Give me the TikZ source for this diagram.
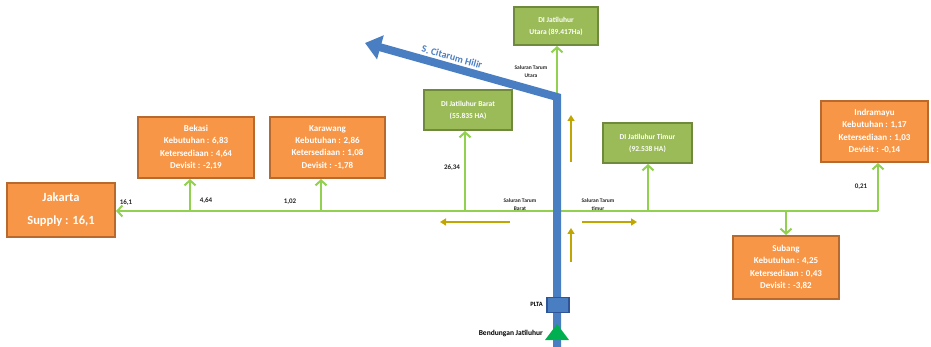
\documentclass[tikz,border=0pt]{standalone}
\usepackage{fontspec}
\setmainfont{Carlito}
\usetikzlibrary{arrows.meta}
\definecolor{orfill}{HTML}{F79646}
\definecolor{ordraw}{HTML}{B86A2E}
\definecolor{grfill}{HTML}{9BBB59}
\definecolor{grdraw}{HTML}{6F8A3C}
\definecolor{gline}{HTML}{92D050}
\definecolor{river}{HTML}{4A7EC2}
\definecolor{riverdk}{HTML}{2F5597}
\definecolor{olive}{HTML}{BFA600}
\definecolor{dam}{HTML}{00B050}
\tikzset{
  orbox/.style={draw=ordraw, fill=orfill, line width=2pt, text=white, font=\bfseries\fontsize{9}{12.3}\selectfont, align=center, inner sep=0pt},
  grbox/.style={draw=grdraw, fill=grfill, line width=2pt, text=white, font=\bfseries\fontsize{7.5}{12}\selectfont, align=center, inner sep=0pt},
  gconn/.style={draw=gline, line width=2pt, -{Straight Barb[length=5pt,width=11pt,line width=2pt]}},
  oarrow/.style={draw=olive, line width=1.5pt, -{Triangle[length=6pt,width=7pt]}},
  val/.style={font=\bfseries\fontsize{7}{8}\selectfont, text=black!85, inner sep=0pt},
  sal/.style={font=\bfseries\fontsize{5.5}{8}\selectfont, text=black!85, align=center, inner sep=0pt},
}
\begin{document}
\begin{tikzpicture}[x=1pt,y=-1pt]
\useasboundingbox (0,0) rectangle (931,347);
% boxes
\node[orbox, minimum width=108pt, minimum height=54pt, font=\bfseries\fontsize{12.5}{23}\selectfont] (jak) at (61,210) {Jakarta\\Supply : 16,1};
\node[orbox, minimum width=116pt, minimum height=61pt] (bek) at (196,147.5) {Bekasi\\Kebutuhan : 6,83\\Ketersediaan : 4,64\\Devisit : -2,19};
\node[orbox, minimum width=115pt, minimum height=61pt] (kar) at (327.5,147.5) {Karawang\\Kebutuhan : 2,86\\Ketersediaan : 1,08\\Devisit : -1,78};
\node[orbox, minimum width=107pt, minimum height=61pt] (ind) at (874.5,131.5) {Indramayu\\Kebutuhan : 1,17\\Ketersediaan : 1,03\\Devisit : -0,14};
\node[orbox, minimum width=106pt, minimum height=63pt] (sub) at (786,267.5) {Subang\\Kebutuhan : 4,25\\Ketersediaan : 0,43\\Devisit : -3,82};
\node[grbox, minimum width=88pt, minimum height=40pt] (bar) at (468,110) {DI Jatiluhur Barat\\(55.835 HA)};
\node[grbox, minimum width=84pt, minimum height=38pt] (uta) at (556,26) {DI Jatiluhur\\Utara (89.417Ha)};
\node[grbox, minimum width=89pt, minimum height=40pt] (tim) at (647.5,143) {DI Jatiluhur Timur\\(92.538 HA)};
% main green line
\coordinate (mR) at (878,211);
\coordinate (mB) at (190,211);
\coordinate (mK) at (321,211);
\coordinate (mBa) at (465,211);
\coordinate (mT) at (648,211);
\coordinate (mS) at (786,211);
\coordinate (corner) at (557,97);
\draw[gconn] (mR) -- (mR -| jak.east);
\draw[gconn] (mB) -- (mB |- bek.south);
\draw[gconn] (mK) -- (mK |- kar.south);
\draw[gconn] (mBa) -- (mBa |- bar.south);
\draw[gconn] (mT) -- (mT |- tim.south);
\draw[gconn] (mR) -- (mR |- ind.south);
\draw[gconn] (mS) -- (mS |- sub.north);
\draw[gconn] (corner) -- (corner |- uta.south);
% values
\node[val] (v1) at (126,203) {16,1};
\node[val] (v2) at (206,201) {4,64};
\node[val] (v3) at (290,202) {1,02};
\node[val] (v4) at (452,168) {26,34};
\node[val] (v5) at (861,187) {0,21};
% saluran labels
\node[sal] (su) at (531,72) {Saluran Tarum\\Utara};
\node[sal] (sb) at (520,205) {Saluran Tarum\\Barat};
\node[sal] (st) at (598,205) {Saluran Tarum\\timur};
% olive arrows
\coordinate (o1a) at (571,162); \coordinate (o1b) at (571,115);
\coordinate (o2a) at (510,222); \coordinate (o2b) at (440,222);
\coordinate (o3a) at (582,222); \coordinate (o3b) at (637,222);
\coordinate (o4a) at (571,262); \coordinate (o4b) at (571,228);
\draw[oarrow] (o1a) -- (o1b);
\draw[oarrow] (o2a) -- (o2b);
\draw[oarrow] (o3a) -- (o3b);
\draw[oarrow] (o4a) -- (o4b);
% river
\coordinate (rb) at (557,347);
\coordinate (rt) at (365,43);
\draw[river, line width=8pt, miter limit=10, -{Triangle[length=16pt,width=24pt]}] (rb) -- (corner) -- (rt);
\node[text=river, font=\bfseries\fontsize{10}{12}\selectfont, rotate=-15.7, inner sep=0pt] (cit) at (452,57) {S. Citarum Hilir};
% PLTA and dam
\node[draw=riverdk, fill=river, line width=1.5pt, minimum width=22pt, minimum height=15pt, inner sep=0pt] (plta) at (558,305) {};
\node[font=\bfseries\fontsize{6.5}{7}\selectfont, anchor=east, inner sep=0pt] (pl) at (543,304) {PLTA};
\fill[dam] (557,324) -- (569,340) -- (545,340) -- cycle;
\node[font=\bfseries\fontsize{7.5}{8}\selectfont, anchor=east, inner sep=0pt] (bd) at (543,333) {Bendungan Jatiluhur};
\end{tikzpicture}
\end{document}
